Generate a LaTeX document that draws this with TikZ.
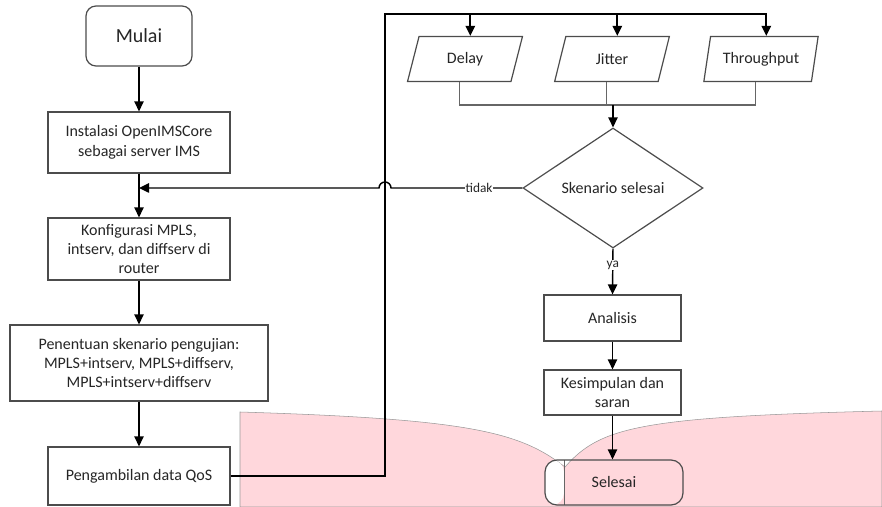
\documentclass[tikz,border=0pt]{standalone}
\usepackage{fontspec}
\setmainfont{Carlito}
\usetikzlibrary{shapes,arrows,arrows.meta}
\definecolor{pinkbg}{RGB}{255,215,220}

\begin{document}
\begin{tikzpicture}[x=0.75pt,y=0.75pt,
  >={Triangle[length=7.5pt,width=7pt]},
  txt/.style={font=\fontsize{12}{14.6}\selectfont,text=black!85},
  box/.style={txt,draw=black!70,line width=0.9pt,fill=white,align=center,inner sep=2pt,minimum width=136.5pt},
  io/.style={txt,trapezium,trapezium left angle=76,trapezium right angle=104,trapezium stretches=true,draw=black!70,line width=0.9pt,fill=white,minimum width=86.25pt,minimum height=33.75pt},
  line/.style={black,line width=1.1pt},
  gline/.style={black!60,line width=1pt},
  lbl/.style={font=\fontsize{10}{12}\selectfont,text=black!85,fill=white,inner sep=0.5pt}]

\useasboundingbox (0,0) rectangle (882,507);

% to draw the pink curled area
\fill[pinkbg,draw=black!40,line width=0.4pt] (240,0) -- (240,95)
  .. controls (470,88) and (520,75) .. (565,40)
  .. controls (600,80) and (640,90) .. (882,96) -- (882,0) -- cycle;

% left column
\node [box,rounded corners=7.5pt,minimum width=79.5pt,minimum height=45pt,font=\fontsize{15}{18}\selectfont] (mulai) at (139,471) {Mulai};
\node [box,minimum height=45.75pt] (inst) at (139,364.5) {Instalasi OpenIMSCore\\sebagai server IMS};
\node [box,minimum height=46.5pt] (konf) at (139,258) {Konfigurasi MPLS,\\intserv, dan diffserv di\\router};
\node [box,minimum width=193.5pt,minimum height=57pt] (pen) at (139,144) {Penentuan skenario pengujian:\\MPLS+intserv, MPLS+diffserv,\\MPLS+intserv+diffserv};
\node [box,minimum height=43.5pt] (ambil) at (139,31) {Pengambilan data QoS};

% right column
\node [io] (delay) at (465,448) {Delay};
\node [io] (jitter) at (612,448) {Jitter};
\node [io] (throughput) at (761,448) {Throughput};
\node [txt,diamond,draw=black!70,line width=0.9pt,fill=white,inner sep=0pt,minimum width=135pt,minimum height=90pt] (skenario) at (613,319) {Skenario selesai};
\node [box,minimum width=102.75pt,minimum height=34.5pt] (analisis) at (612.5,189) {Analisis};
\node [box,minimum width=102.75pt,minimum height=33.75pt] (kesim) at (612.5,114.5) {Kesimpulan dan\\saran};
\node [txt,draw=black!70,line width=0.9pt,rounded corners=9pt,minimum width=103.5pt,minimum height=33.75pt,
  path picture={\fill[white] (path picture bounding box.south west) rectangle ([xshift=14.25pt]path picture bounding box.north west);
    \draw[black!60,line width=0.6pt] ([xshift=14.25pt]path picture bounding box.south west) -- ([xshift=14.25pt]path picture bounding box.north west);}] (selesai) at (614,24.5) {Selesai};

\coordinate (turn) at (385,493);
\coordinate (merge) at (613,402);

% to draw arrows of the left column
\draw [->,line] (mulai) -- (inst);
\draw [->,line] (inst) -- (konf);
\draw [->,line] (konf) -- (pen);
\draw [->,line] (pen) -- (ambil);

% to draw the loop to the QoS parameters
\draw [->,line,line width=1.4pt] (ambil.east) -- (turn |- ambil.east) -- (turn) -- ([xshift=4pt]throughput.north |- turn) -- ([xshift=4pt]throughput.north);
\draw [->,line,line width=1.4pt] ([xshift=4pt]delay.north |- turn) -- ([xshift=4pt]delay.north);
\draw [->,line,line width=1.4pt] ([xshift=4pt]jitter.north |- turn) -- ([xshift=4pt]jitter.north);

% to join the parameters
\draw [gline] ([xshift=-4pt]delay.south) |- ([xshift=-4pt]throughput.south |- merge) -- ([xshift=-4pt]throughput.south);
\draw [gline] ([xshift=-4pt]jitter.south) -- ([xshift=-4pt]jitter.south |- merge);
\draw [->,line] (merge) -- (skenario.north);

% to draw the decision arrows
\draw [->,line] (skenario.west) -- node[lbl,pos=0.33] {tidak} ([xshift=4.5pt]turn |- skenario.west)
  arc[start angle=0,end angle=180,radius=4.5pt] -- (inst.south |- skenario.west);
\draw [->,line] (skenario.south) -- node[lbl,pos=0.36] {ya} (analisis.north);
\draw [->,line] (analisis) -- (kesim);
\draw [->,line] (kesim.south) -- (kesim.south |- selesai.north);
\end{tikzpicture}
\end{document}
